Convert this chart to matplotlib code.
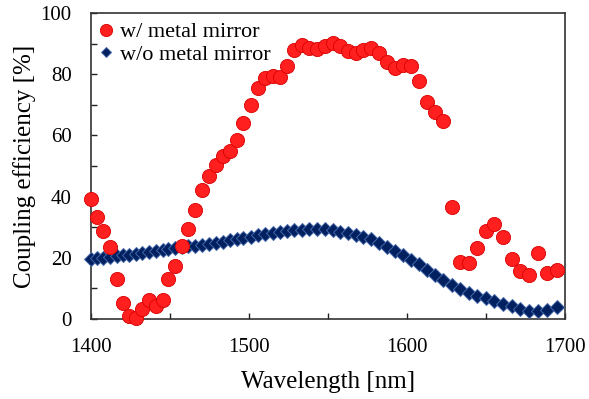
import numpy as np
import matplotlib.pyplot as plt
from matplotlib.ticker import MultipleLocator

plt.rcParams['font.family'] = ['Liberation Serif', 'DejaVu Serif']

# wavelength samples [nm] (shared by both series)
wavelength = [1400.0, 1404.0, 1407.8, 1412.0, 1416.3, 1420.0, 1424.2, 1428.5, 1432.3,
              1436.5, 1441.1, 1445.4, 1448.9, 1453.2, 1457.4, 1461.6, 1465.8, 1470.4,
              1474.5, 1478.9, 1483.4, 1488.0, 1492.2, 1496.4, 1501.1, 1505.9, 1510.1,
              1515.0, 1519.6, 1524.2, 1528.5, 1533.4, 1538.2, 1543.2, 1548.1, 1553.0,
              1557.6, 1562.8, 1567.7, 1572.3, 1577.0, 1582.3, 1587.2, 1592.4, 1597.3,
              1602.5, 1607.6, 1612.5, 1617.7, 1623.0, 1628.3, 1633.5, 1639.2, 1644.5,
              1649.8, 1655.3, 1660.6, 1666.3, 1671.5, 1677.4, 1683.1, 1688.8, 1694.7]

# coupling efficiency [%] with metal mirror
with_mirror = [39.2, 33.2, 28.9, 23.6, 13.0, 5.3, 1.0, 0.2, 3.2,
               6.2, 4.2, 6.2, 13.0, 17.4, 23.9, 29.3, 35.6, 42.0,
               46.8, 50.4, 53.3, 55.0, 58.5, 64.0, 69.9, 75.4, 78.6,
               79.4, 79.2, 82.8, 87.9, 89.5, 88.7, 88.1, 89.2, 90.3,
               89.3, 87.7, 87.0, 87.9, 88.5, 86.8, 83.9, 81.9, 83.0,
               82.8, 77.9, 70.9, 67.6, 64.8, 36.6, 18.7, 18.2, 23.1,
               28.9, 30.9, 26.7, 19.7, 15.8, 14.4, 21.5, 14.9, 16.0]

# coupling efficiency [%] without metal mirror
without_mirror = [19.5, 19.8, 20.0, 20.3, 20.5, 20.8, 21.0, 21.3, 21.6,
                  21.9, 22.2, 22.5, 22.8, 23.1, 23.4, 23.7, 24.0, 24.3,
                  24.6, 24.9, 25.3, 25.7, 26.1, 26.5, 26.9, 27.3, 27.7,
                  28.1, 28.5, 28.8, 29.0, 29.2, 29.3, 29.4, 29.3, 29.0,
                  28.5, 28.0, 27.5, 26.8, 26.0, 24.9, 23.6, 22.3, 20.9,
                  19.3, 17.9, 16.1, 14.5, 12.8, 11.2, 9.8, 8.6, 7.6,
                  6.8, 5.9, 4.9, 4.2, 3.3, 2.5, 2.6, 3.0, 3.9]

fig = plt.figure(figsize=(5.89, 3.99), dpi=100)
ax = fig.add_axes([0.1545, 0.2005, 0.8048, 0.767])

ax.plot(wavelength, without_mirror, 'D', ms=7.2, color='#002060',
        mec='#4668a8', mew=0.7, clip_on=False, zorder=3, label='w/o metal mirror')
ax.plot(wavelength, with_mirror, 'o', ms=10.2, color='#ff1f1f',
        mec='#d80000', mew=0.6, clip_on=False, zorder=4, label='w/ metal mirror')

ax.set_xlim(1400, 1700)
ax.set_ylim(0, 100)
ax.xaxis.set_major_locator(MultipleLocator(100))
ax.xaxis.set_minor_locator(MultipleLocator(50))
ax.yaxis.set_major_locator(MultipleLocator(20))
ax.yaxis.set_minor_locator(MultipleLocator(10))
ax.tick_params(which='both', direction='in', length=4.5, width=1.0,
               color='#222222', labelsize=15)
ax.tick_params(axis='x', pad=14)
ax.tick_params(axis='y', pad=14)
for s in ax.spines.values():
    s.set_linewidth(1.2)
    s.set_color('#333333')

ax.set_xlabel('Wavelength [nm]', fontsize=18, labelpad=10)
ax.set_ylabel('Coupling efficiency [%]', fontsize=18, labelpad=3)

handles, labels = ax.get_legend_handles_labels()
leg = ax.legend(handles[::-1], labels[::-1], loc='upper left',
                bbox_to_anchor=(-0.01, 1.0), frameon=False, fontsize=16,
                handletextpad=0.1, handlelength=1.0, labelspacing=0.1,
                borderaxespad=0.0)
leg.legend_handles[0].set_markersize(8.8)
leg.legend_handles[1].set_markersize(5.0)

fig.savefig('out.png', dpi=100)
